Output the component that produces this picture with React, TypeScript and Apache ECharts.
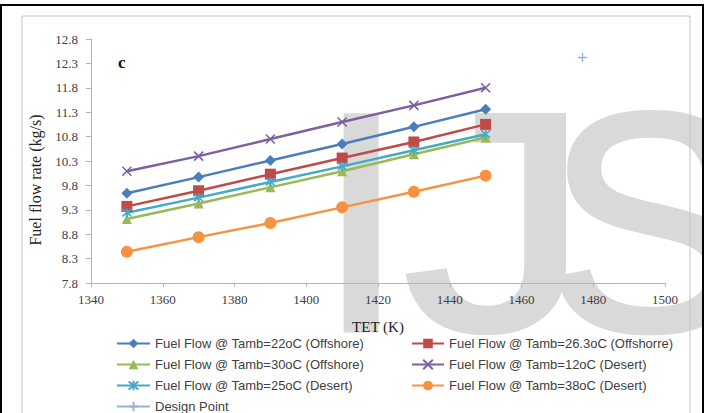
import React, { useEffect, useRef } from "react";
import * as echarts from "echarts";

const tet = [1350, 1370, 1390, 1410, 1430, 1450];
const ff22Offshore = [9.64, 9.97, 10.31, 10.65, 11.0, 11.36];
const ff263Offshore = [9.37, 9.69, 10.03, 10.36, 10.69, 11.05];
const ff30Offshore = [9.11, 9.43, 9.76, 10.09, 10.44, 10.78];
const ff12Desert = [10.09, 10.4, 10.75, 11.1, 11.44, 11.8];
const ff25Desert = [9.24, 9.55, 9.87, 10.19, 10.52, 10.85];
const ff38Desert = [8.44, 8.74, 9.03, 9.35, 9.67, 10.0];
const designPoint = [1477, 12.42];

const names = [
  "Fuel Flow @ Tamb=22oC (Offshore)",
  "Fuel Flow @ Tamb=26.3oC (Offshorre)",
  "Fuel Flow @ Tamb=30oC (Offshore)",
  "Fuel Flow @ Tamb=12oC (Desert)",
  "Fuel Flow @ Tamb=25oC (Desert)",
  "Fuel Flow @ Tamb=38oC (Desert)",
  "Design Point",
];

const X_PATH = "path://M0,0L10,10M10,0L0,10";
const STAR_PATH = "path://M0,0L10,10M10,0L0,10M5,-1L5,11";
const PLUS_PATH = "path://M5,0L5,10M0,5L10,5";

function lineSeries(name: string, ys: number[], color: string, symbol: string, size: number, stroke = false) {
  return {
    name,
    type: "line",
    data: tet.map((t, i) => [t, ys[i]]),
    symbol,
    symbolSize: size,
    showSymbol: true,
    lineStyle: { color, width: 2.5 },
    itemStyle: stroke
      ? { color, borderColor: color, borderWidth: 1.6 }
      : { color, borderWidth: 0 },
    z: 3,
  };
}

function wm(ch: string, x: number, scaleX = 1) {
  return {
    type: "text",
    x,
    y: 222,
    scaleX,
    z: -10,
    silent: true,
    style: {
      text: ch,
      fontFamily: "Liberation Sans",
      fontWeight: "normal",
      fontSize: 310,
      fill: "#d9d9d9",
      stroke: "#d9d9d9",
      lineWidth: 6,
      verticalAlign: "middle",
      align: "left",
    },
  };
}

export default function App() {
  const ref = useRef<HTMLDivElement>(null);
  useEffect(() => {
    document.body.style.margin = "0";
    const chart = echarts.init(ref.current!, null, { renderer: "svg" });
    const serif = "Liberation Serif";
    const sans = "Liberation Sans";
    const legendCommon = {
      orient: "vertical",
      padding: 0,
      itemWidth: 33,
      itemHeight: 12,
      itemGap: 8,
      height: 120,
      textStyle: { fontFamily: sans, fontSize: 13, color: "#404040" },
    };
    chart.setOption({
      animation: false,
      backgroundColor: "#ffffff",
      graphic: [
        wm("I", 318),
        wm("J", 404, 1.2),
        wm("S", 546),
        {
          type: "rect",
          z: 10,
          shape: { x: 22, y: 16, width: 668, height: 440 },
          style: { fill: "none", stroke: "#c4c4c4", lineWidth: 1 },
        },
        {
          type: "rect",
          z: 10,
          shape: { x: 1, y: 5, width: 702, height: 440 },
          style: { fill: "none", stroke: "#000000", lineWidth: 2 },
        },
        {
          type: "text",
          x: 118,
          y: 62,
          z: 10,
          style: {
            text: "c",
            fontFamily: serif,
            fontWeight: "bold",
            fontSize: 17,
            fill: "#111",
            verticalAlign: "middle",
          },
        },
        {
          type: "text",
          x: 35,
          y: 180,
          rotation: Math.PI / 2,
          z: 10,
          style: {
            text: "Fuel flow rate (kg/s)",
            fontFamily: serif,
            fontSize: 16,
            fill: "#222",
            align: "center",
            verticalAlign: "middle",
          },
        },
      ],
      grid: { left: 91, right: 39, top: 39, bottom: 130, containLabel: false },
      xAxis: {
        type: "value",
        min: 1340,
        max: 1500,
        interval: 20,
        name: "TET (K)",
        nameLocation: "middle",
        nameGap: 36,
        nameTextStyle: { fontFamily: serif, fontSize: 15, color: "#222" },
        axisLine: { show: true, lineStyle: { color: "#b5b5b5", width: 1 } },
        axisTick: { show: true, length: 4, lineStyle: { color: "#b5b5b5" } },
        axisLabel: {
          fontFamily: serif,
          fontSize: 13,
          color: "#404040",
          margin: 10,
          formatter: (v: number) => String(v),
        },
        splitLine: { show: false },
      },
      yAxis: {
        type: "value",
        min: 7.8,
        max: 12.8,
        interval: 0.5,
        axisLine: { show: true, lineStyle: { color: "#b5b5b5", width: 1 } },
        axisTick: { show: true, length: 5, lineStyle: { color: "#b5b5b5" } },
        axisLabel: {
          fontFamily: serif,
          fontSize: 13,
          color: "#404040",
          margin: 13,
          formatter: (v: number) => v.toFixed(1),
        },
        splitLine: { show: false },
      },
      legend: [
        { ...legendCommon, left: 116, top: 337, data: [names[0], names[2], names[4], names[6]] },
        { ...legendCommon, left: 411, top: 337, itemWidth: 32, data: [names[1], names[3], names[5]] },
      ],
      series: [
        lineSeries(names[0], ff22Offshore, "#4a7ebb", "diamond", 11),
        lineSeries(names[1], ff263Offshore, "#be4b48", "rect", 11),
        lineSeries(names[2], ff30Offshore, "#98b954", "triangle", 10),
        lineSeries(names[3], ff12Desert, "#7d60a0", X_PATH, 9, true),
        lineSeries(names[4], ff25Desert, "#46aac5", STAR_PATH, 9, true),
        lineSeries(names[5], ff38Desert, "#f69240", "circle", 12),
        {
          name: names[6],
          type: "line",
          data: [designPoint],
          symbol: PLUS_PATH,
          symbolSize: 9,
          lineStyle: { color: "#95b3d7", width: 2.5 },
          itemStyle: { color: "#95b3d7", borderColor: "#95b3d7", borderWidth: 1.4 },
          z: 3,
        },
      ],
    });
    return () => chart.dispose();
  }, []);
  return (
    <div
      ref={ref}
      style={{ width: 704, height: 413, position: "absolute", left: 0, top: 0 }}
    />
  );
}
